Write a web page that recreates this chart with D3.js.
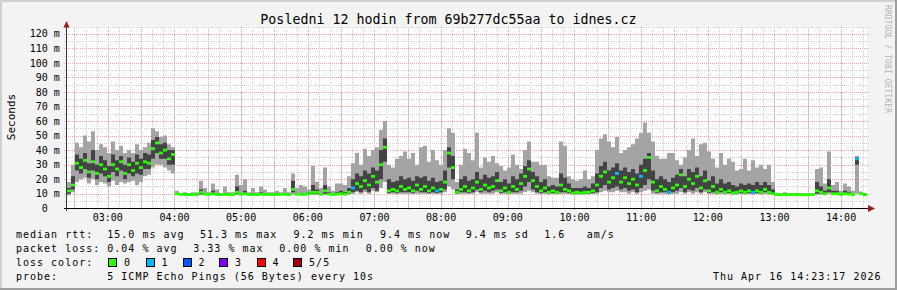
<!DOCTYPE html>
<html>
<head>
<meta charset="utf-8">
<script src="https://cdn.jsdelivr.net/npm/d3@7"></script>
<style>
  body { margin: 0; background: #f3f3f3; }
  svg { display: block; }
  text { font-family: "DejaVu Sans Mono", monospace; fill: #000; }
</style>
</head>
<body>
<svg id="chart" width="897" height="290"></svg>
<script>
// ping samples, one per 3.6 minutes, in ms
var median = [
  12,16,31,28,33,25,32,24,30,27, 22,30,27,32,24,30,26,31,28,32,
  31,41,45,38,40,34,37,10,9.5,9.5, 9.4,9.5,9.5,11,9.7,9.5,10,9.5,9.4,9.6,
  9.4,9.4,11,9.6,10,9.4,9.5,9.4,9.7,9.5, 9.4,9.4,9.5,9.5,9.6,9.4,13,9.7,9.5,9.6,
  10,11,11,9.6,12,9.7,9.5,9.7,10,9.6, 11,14,17,15,19,16,22,18,30,42,
  12,13,12,15,13,14,12,16,13,15, 12,14,12,13,18,38,28,11,13,15,
  12,14,18,13,16,14,15,19,12,14, 11,15,13,17,22,27,19,15,12,14,
  11,12,11,16,13,12,10.5,11,10.5,11, 11,12,16,22,25,18,21,24,18,21,
  17,20,16,22,26,35,18,12,15,13, 11,14,16,23,15,20,17,22,14,19,
  12,15,11,13,11,12,10.5,11,12,11, 12,11,12,11,13,11,10,9.4,9.4,9.5,
  9.4,9.4,9.4,9.3,9.3,9.3,9.4,12,11,10, 14,10,10,9.5,10,9.7,9.5,34,10,9.4
];
var pingMin = [
  9,11,18,20,21,17,20,16,18,17, 15,19,16,18,17,18,19,16,18,22,
  23,28,30,30,28,26,24,9,9.1,9.1, 9.0,9.1,9.1,9.2,9.1,9.1,9.1,9.0,9.0,9.1,
  9.0,9.0,9.2,9.1,9.1,9.0,9.1,9.0,9.1,9.1, 9.1,9.1,9.1,9.1,9.1,9.0,9.4,9.1,9.1,9.1,
  9.1,9.2,9.2,9.1,9.4,9.1,9.1,9.1,9.1,9.1, 9.4,10,11,10,11,10,12,11,14,18,
  9.8,10,9.8,10,10,10,9.8,10,10,10, 9.8,10,9.8,10,11,15,13,9.6,10,10,
  9.8,10,11,10,10,10,10,11,9.8,10, 9.6,10,10,10,11,12,11,10,9.8,10,
  9.6,9.8,9.6,10,10,9.8,9.4,9.5,9.4,9.5, 9.5,9.8,10,11,12,11,11,12,11,11,
  10,11,10,11,12,13,10,9.8,10,10, 9.6,10,10,11,10,11,10,11,10,11,
  9.8,10,9.6,10,9.6,9.8,9.4,9.5,9.8,9.5, 9.8,9.5,9.8,9.5,10,9.5,9.3,9.0,9.0,9.1,
  9.0,9.0,9.0,9.0,9.0,9.0,9.0,9.6,9.5,9.3, 10,9.3,9.3,9.2,9.3,9.2,9.2,10,9.3,9.1
];
var ping2 = [
  10,13,26,24,27,21,26,20,24,22, 18,25,22,26,20,24,22,24,23,27,
  27,34,38,34,34,30,30,9.3,9.2,9.2, 9.1,9.2,9.2,9.6,9.3,9.2,9.4,9.2,9.1,9.3,
  9.1,9.1,9.8,9.3,9.5,9.1,9.3,9.1,9.3,9.2, 9.2,9.2,9.3,9.2,9.3,9.1,11,9.3,9.3,9.3,
  9.5,9.8,9.8,9.3,10,9.3,9.2,9.3,9.5,9.3, 10,11,12,11,13,11,14,12,20,32,
  10.5,11,10.5,11,11,11,10.5,12,11,11, 10.5,11,10.5,11,13,28,20,10,11,11,
  10.5,11,13,11,12,11,12,13,10.5,11, 10,11,11,12,15,18,13,11,10.5,11,
  10,10.5,10,11,11,10.5,9.8,9.9,9.8,10, 10,10.5,11,14,16,13,14,15,13,14,
  12,13,11,14,16,20,12,10.5,11,11, 10,11,12,14,11,13,12,14,11,13,
  10.5,11,10,11,10,10.5,9.8,10,10.5,10, 10.5,10,10.5,10,11,10,9.5,9.1,9.1,9.2,
  9.1,9.1,9.1,9.1,9.1,9.1,9.1,10,9.8,9.6, 11,9.6,9.6,9.3,9.6,9.4,9.3,30,9.6,9.2
];
var ping4 = [
  14,22,37,34,38,31,40,30,36,33, 29,37,33,36,30,35,32,37,34,38,
  37,47,49,44,45,40,40,10.5,10,10, 9.9,10,10,13,10.5,10,12,10,9.9,10.5,
  10,9.9,15,10.5,12,10,10.5,10,11,10.2, 10,10,10,10,10.5,10,19,10.5,10.5,10.5,
  11,16,13,10.5,16,11,10,11,12,11, 14,20,24,22,26,24,28,26,40,48,
  20,18,19,22,20,21,19,22,21,22, 19,21,18,19,26,42,36,13,20,22,
  19,20,25,20,23,21,22,25,18,20, 17,22,20,24,29,33,25,22,18,20,
  15,16,15,24,21,17,14,14,14,15, 14,17,24,29,32,26,28,31,26,28,
  25,27,24,30,34,38,26,20,22,20, 18,21,23,27,22,27,25,28,22,26,
  19,22,17,20,17,18,16,15,17,16, 17,16,18,16,18,16,13,9.9,9.9,10,
  9.9,9.9,9.9,9.8,9.8,9.8,9.9,18,15,12, 20,12,12,10,12,11,10,35,10.5,10
];
var pingMax = [
  18,30,45,42,50,46,53,40,44,42, 38,46,40,43,38,40,38,44,40,42,
  45,55,53,49,50,44,42,12,10.5,11, 10.5,11,11,19,14,11,17,13,10.5,15,
  11,11,23,16,20,11,14,11,15,13, 11,11,12,11,14,11,24,14,16,15,
  13,29,18,14,28,15,12,17,17,16, 22,31,38,30,41,36,40,42,54,60,
  30,28,34,36,39,34,38,30,42,43, 32,40,33,30,40,55,52,18,30,41,
  38,33,52,28,35,32,36,31,29,26, 28,37,30,27,40,46,32,32,30,30,
  22,21,21,46,43,22,20,19,20,26, 20,22,40,48,51,46,42,49,38,40,
  42,44,48,52,59,52,46,36,34,34, 38,38,33,30,35,40,48,36,44,45,
  39,34,28,38,30,34,32,26,27,34, 26,33,28,30,27,30,18,10.5,10.5,11,
  10.5,10.5,10.5,10.5,10.3,10.3,10.5,27,28,17, 39,16,18,12,17,15,12,36,11.5,10.5
];
// samples where one of the 5 pings was lost
var lossSamples = [71, 92, 137, 143, 150, 171, 197];

var lossColors = ["#26ff00", "#00b8ff", "#0059ff", "#7e00ff", "#ff0000", "#a00000"];
var lossLabels = ["0", "1", "2", "3", "4", "5/5"];
var yTicks = [0, 10, 20, 30, 40, 50, 60, 70, 80, 90, 100, 110, 120];

var title = "Posledni 12 hodin from 69b277dc55aa to idnes.cz";
var legendRtt = [[16, "median rtt:"], [107.3, "15.0 ms avg"], [200, "51.3 ms max"],
  [293.5, "9.2 ms min"], [380, "9.4 ms now"], [465.7, "9.4 ms sd"], [544.3, "1.6"], [586.7, "am/s"]];
var legendLoss = [[16, "packet loss:"], [107.3, "0.04 % avg"], [193.3, "3.33 % max"],
  [279.3, "0.00 % min"], [365.7, "0.00 % now"]];
var probeText = "5 ICMP Echo Pings (56 Bytes) every 10s";
var stamp = "Thu Apr 16 14:23:17 2026";

var svg = d3.select("#chart");
var W = 897, H = 290;
var plotL = 67, plotR = 867, plotT = 26.5, plotB = 208.3;

var tEnd = new Date(2026, 3, 16, 14, 23, 17);
var tStart = new Date(+tEnd - 12 * 3600 * 1000);
var n = median.length;
var step = (+tEnd - +tStart) / n;
var times = d3.range(n + 1).map(function (i) { return new Date(+tStart + i * step); });

var x = d3.scaleTime().domain([tStart, tEnd]).range([plotL, plotR]);
var y = d3.scaleLinear().domain([0, 125]).range([plotB, plotT]);

// frame
svg.append("rect").attr("width", W).attr("height", H).attr("fill", "#f3f3f3");
svg.append("path").attr("d", "M0,0H" + W + "V2H2V" + H + "H0Z").attr("fill", "#cfcfcf");
svg.append("path").attr("d", "M" + W + "," + H + "H0V" + (H - 2) + "H" + (W - 2) + "V0H" + W + "Z").attr("fill", "#9e9e9e");
svg.append("rect").attr("x", plotL).attr("y", plotT).attr("width", plotR - plotL).attr("height", plotB - plotT).attr("fill", "#fff");

// grid
var grid = svg.append("g").attr("shape-rendering", "crispEdges").attr("stroke-dasharray", "1,1");
function px(v) { return Math.round(v) + 0.5; }

var minorT = d3.timeMinute.every(10).range(tStart, tEnd);
var majorT = d3.timeMinute.every(30).range(tStart, tEnd);
grid.selectAll(".vmin").data(minorT).enter().append("line")
  .attr("x1", function (d) { return px(x(d)); }).attr("x2", function (d) { return px(x(d)); })
  .attr("y1", plotT).attr("y2", plotB + 2).attr("stroke", "#d0d0d0");
grid.selectAll(".hmin").data(d3.range(5, 126, 5)).enter().append("line")
  .attr("x1", plotL - 3).attr("x2", plotR + 3)
  .attr("y1", function (d) { return px(y(d)); }).attr("y2", function (d) { return px(y(d)); })
  .attr("stroke", "#d0d0d0");
grid.selectAll(".vmaj").data(majorT).enter().append("line")
  .attr("x1", function (d) { return px(x(d)); }).attr("x2", function (d) { return px(x(d)); })
  .attr("y1", plotT).attr("y2", plotB + 3).attr("stroke", "#f3a6a6");
grid.selectAll(".hmaj").data(yTicks.slice(1)).enter().append("line")
  .attr("x1", plotL - 3).attr("x2", plotR + 3)
  .attr("y1", function (d) { return px(y(d)); }).attr("y2", function (d) { return px(y(d)); })
  .attr("stroke", "#f3a6a6");

// smoke
function band(lo, hi) {
  return d3.area()
    .curve(d3.curveStepAfter)
    .x(function (d) { return x(times[d]); })
    .y0(function (d) { return y(lo[Math.min(d, n - 1)]); })
    .y1(function (d) { return y(hi[Math.min(d, n - 1)]); });
}
var idx = d3.range(n + 1);
svg.append("path").datum(idx).attr("d", band(pingMin, pingMax)).attr("fill", "#a4a4a4");
svg.append("path").datum(idx).attr("d", band(ping2, ping4)).attr("fill", "#444");

// median, coloured by loss
svg.append("g").selectAll("rect").data(median).enter().append("rect")
  .attr("x", function (d, i) { return x(times[i]); })
  .attr("width", function (d, i) { return x(times[i + 1]) - x(times[i]); })
  .attr("y", function (d) { return y(d) - 1.4; })
  .attr("height", 2.8)
  .attr("fill", function (d, i) { return lossColors[lossSamples.indexOf(i) >= 0 ? 1 : 0]; });

// axes
var ax = svg.append("g").attr("shape-rendering", "crispEdges");
ax.append("line").attr("x1", plotL - 3).attr("x2", plotR + 3).attr("y1", 208.5).attr("y2", 208.5).attr("stroke", "#000");
ax.append("line").attr("x1", 66.5).attr("x2", 66.5).attr("y1", plotB + 3).attr("y2", 24).attr("stroke", "#333");
svg.append("path").attr("d", "M63.5,27.5L69.5,27.5L66.5,21Z").attr("fill", "#9b1c1c");
svg.append("path").attr("d", "M868,205L868,212L875,208.5Z").attr("fill", "#9b1c1c");

// y labels
svg.append("g").selectAll("text").data(yTicks).enter().append("text")
  .attr("x", function (d) { return d === 0 ? 47.8 : 59.8; })
  .attr("y", function (d) { return y(d) + 3.7; })
  .attr("text-anchor", "end")
  .attr("font-size", "10px")
  .text(function (d) { return d === 0 ? "0" : d + " m"; });

// x labels
svg.append("g").selectAll("text").data(d3.timeHour.every(1).range(tStart, tEnd)).enter().append("text")
  .attr("x", function (d) { return x(d); })
  .attr("y", 220.5)
  .attr("text-anchor", "middle")
  .attr("font-size", "10px")
  .text(d3.timeFormat("%H:%M"));

svg.append("text").attr("x", 448.5).attr("y", 24).attr("text-anchor", "middle")
  .attr("font-size", "13.3px").text(title);
svg.append("text").attr("transform", "translate(15,117) rotate(-90)").attr("text-anchor", "middle")
  .attr("font-size", "11px").text("Seconds");
svg.append("text").attr("transform", "translate(885,5) rotate(90)")
  .attr("font-size", "8px").attr("letter-spacing", "0.1px").style("fill", "#b4b4b4")
  .text("RRDTOOL / TOBI OETIKER");

// legend
var lg = svg.append("g").attr("font-size", "10px").attr("letter-spacing", "1px");
function row(items, yy) {
  lg.selectAll(null).data(items).enter().append("text")
    .attr("x", function (d) { return d[0]; }).attr("y", yy)
    .attr("xml:space", "preserve").text(function (d) { return d[1]; });
}
row(legendRtt, 237.7);
row(legendLoss, 251.7);
row([[16, "loss color:"]], 265.6);
row([[16, "probe:"], [107.3, probeText]], 279.5);
lg.append("text").attr("x", 881.5).attr("y", 279.5).attr("text-anchor", "end").text(stamp);

var boxX = [108.3, 145.7, 182.7, 219.3, 256.7, 293.3];
var sw = lg.selectAll(".sw").data(lossColors).enter().append("g");
sw.append("rect")
  .attr("x", function (d, i) { return Math.round(boxX[i]) + 0.5; })
  .attr("y", 258.5).attr("width", 8).attr("height", 8)
  .attr("fill", function (d) { return d; }).attr("stroke", "#000").attr("shape-rendering", "crispEdges");
sw.append("text")
  .attr("x", function (d, i) { return boxX[i] + 15.8; })
  .attr("y", 265.6)
  .text(function (d, i) { return lossLabels[i]; });
</script>
</body>
</html>
